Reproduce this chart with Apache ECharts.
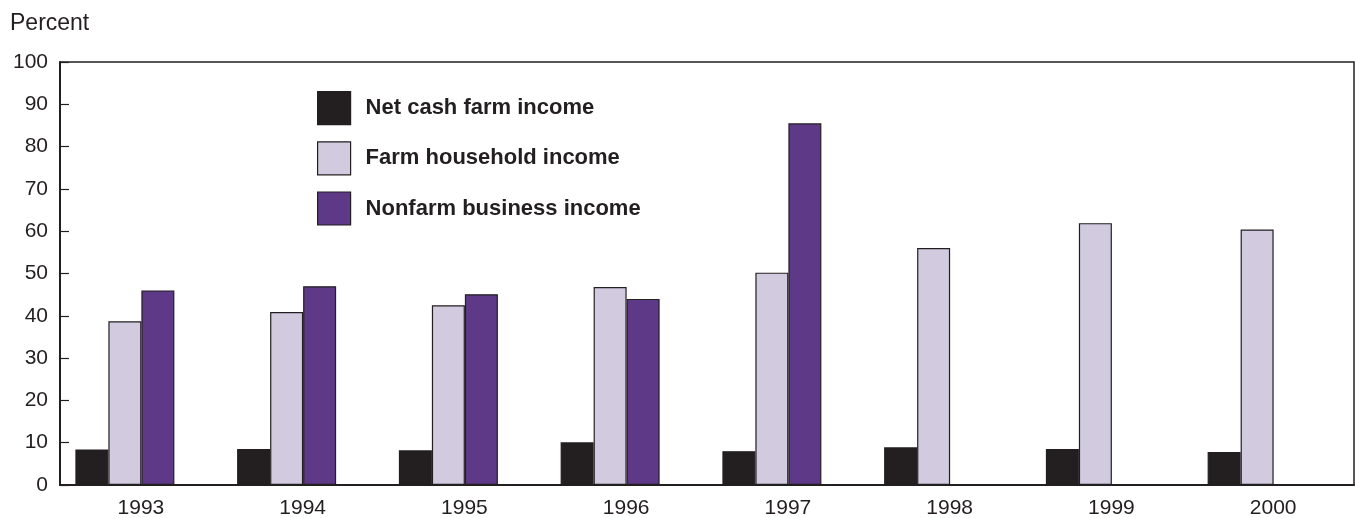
<!DOCTYPE html>
<html>
<head>
<meta charset="utf-8">
<script src="https://cdn.jsdelivr.net/npm/echarts@6/dist/echarts.min.js"></script>
<style>
html,body{margin:0;padding:0;background:#fff;}
#chart{width:1355px;height:518px;}
</style>
</head>
<body>
<div id="chart"></div>
<script>
const years = ['1993','1994','1995','1996','1997','1998','1999','2000'];
const netCashFarmIncome = [8.4, 8.5, 8.2, 10.1, 8.0, 8.9, 8.5, 7.8];
const farmHouseholdIncome = [38.7, 40.9, 42.5, 46.8, 50.2, 56.0, 61.9, 60.4];
const nonfarmBusinessIncome = [46.0, 47.0, 45.1, 44.0, 85.5, null, null, null];
const seriesNames = ['Net cash farm income', 'Farm household income', 'Nonfarm business income'];
const yTicks = [0, 10, 20, 30, 40, 50, 60, 70, 80, 90, 100];

const FONT = '"Liberation Sans", Arial, sans-serif';
const INK = '#231f20';
const colors = ['#231f20', '#d2cbe0', '#5e3988'];

const chart = echarts.init(document.getElementById('chart'), null, {renderer: 'canvas'});

function barSeries(name, data, color) {
  return {
    name: name,
    type: 'bar',
    xAxisIndex: 1,
    yAxisIndex: 1,
    data: data,
    barWidth: 33,
    barGap: '0%',
    itemStyle: {color: color, borderColor: INK, borderWidth: 1.2},
    emphasis: {disabled: true},
    animation: false
  };
}

chart.setOption({
  animation: false,
  textStyle: {fontFamily: FONT},
  title: {
    text: 'Percent',
    left: 5, top: 7,
    textStyle: {fontFamily: FONT, fontSize: 23, fontWeight: 'normal', color: INK}
  },
  legend: {
    orient: 'vertical',
    left: 312, top: 86,
    itemWidth: 33, itemHeight: 33, itemGap: 16,
    icon: 'rect',
    selectedMode: false,
    data: seriesNames,
    itemStyle: {borderColor: INK, borderWidth: 1.2},
    textStyle: {fontFamily: FONT, fontSize: 22, fontWeight: 'bold', color: INK, padding: [0, 0, 0, 10]}
  },
  grid: [
    {left: 60, right: 1, top: 62, bottom: 33, outerBoundsMode: 'none', containLabel: false,
     show: true, borderColor: INK, borderWidth: 1.5, backgroundColor: 'transparent'},
    {left: 44, right: 17, top: 62, bottom: 33, outerBoundsMode: 'none', containLabel: false}
  ],
  xAxis: [
    {
      type: 'category', gridIndex: 0, data: years,
      axisLine: {lineStyle: {color: INK, width: 2}},
      axisTick: {show: false},
      axisLabel: {fontFamily: FONT, fontSize: 21, color: INK, margin: 13}
    },
    {
      type: 'category', gridIndex: 1, data: years, show: false
    }
  ],
  yAxis: [
    {
      type: 'value', gridIndex: 0, min: yTicks[0], max: yTicks[yTicks.length - 1], interval: 10,
      axisLine: {show: true, lineStyle: {color: INK, width: 2}},
      axisTick: {show: true, inside: true, length: 9, lineStyle: {color: INK, width: 1.2}},
      splitLine: {show: false},
      axisLabel: {fontFamily: FONT, fontSize: 21, color: INK, margin: 12}
    },
    {
      type: 'value', gridIndex: 1, min: yTicks[0], max: yTicks[yTicks.length - 1], interval: 10, show: false,
      splitLine: {show: false}
    }
  ],
  series: [
    barSeries(seriesNames[0], netCashFarmIncome, colors[0]),
    barSeries(seriesNames[1], farmHouseholdIncome, colors[1]),
    barSeries(seriesNames[2], nonfarmBusinessIncome, colors[2])
  ]
});
</script>
</body>
</html>
